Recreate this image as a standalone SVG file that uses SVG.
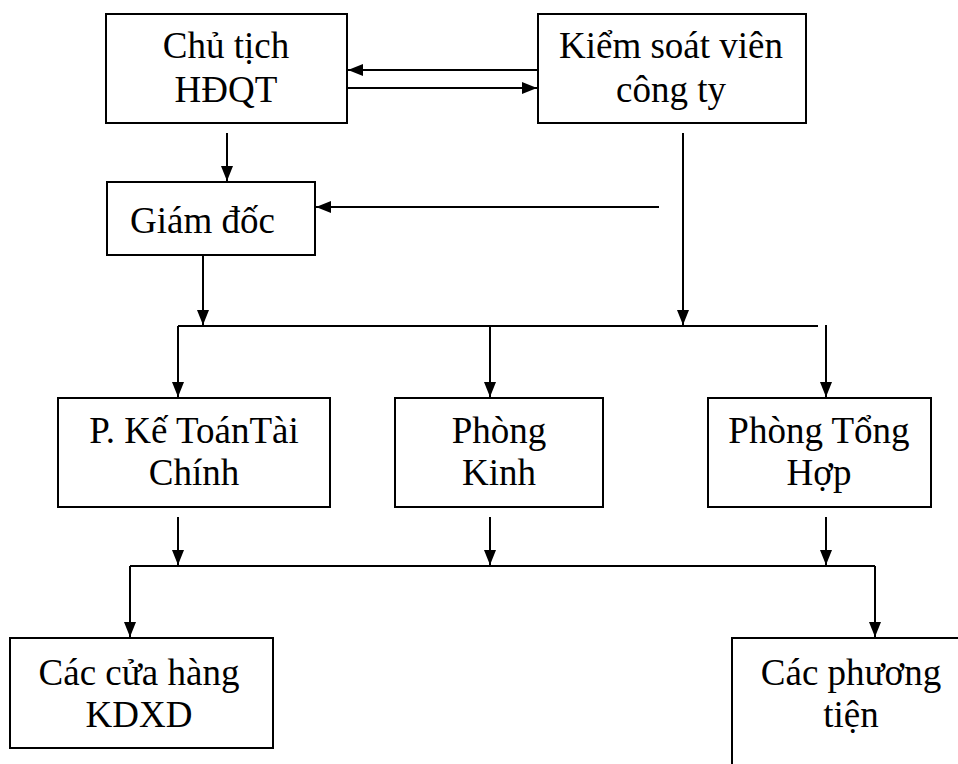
<svg xmlns="http://www.w3.org/2000/svg" width="958" height="764" viewBox="0 0 958 764">
<defs>
<marker id="ah" markerWidth="15" markerHeight="12" refX="15" refY="6" orient="auto" markerUnits="userSpaceOnUse">
<path d="M0,0 L15,6 L0,12 Z" fill="#000"/>
</marker>
<style>
.box{fill:#fff;stroke:#000;stroke-width:2}
.t{font-family:"Liberation Serif","Times New Roman",serif;font-size:37px;fill:#000;text-anchor:middle}
.c{stroke:#000;stroke-width:2;fill:none}
.a{stroke:#000;stroke-width:2;fill:none;marker-end:url(#ah)}
</style>
</defs>
<rect width="958" height="764" fill="#fff"/>
<g id="connectors">
<line class="a" x1="538" y1="70" x2="348" y2="70"/>
<line class="a" x1="347" y1="88" x2="537" y2="88"/>
<line class="a" x1="227" y1="133" x2="227" y2="181"/>
<line class="a" x1="683" y1="133" x2="683" y2="325"/>
<line class="a" x1="659" y1="207" x2="316" y2="207"/>
<line class="a" x1="203" y1="255" x2="203" y2="325"/>
<line class="c" x1="178" y1="326" x2="818" y2="326"/>
<line class="a" x1="178" y1="326" x2="178" y2="397"/>
<line class="a" x1="490" y1="326" x2="490" y2="397"/>
<line class="a" x1="826" y1="325" x2="826" y2="397"/>
<line class="a" x1="178" y1="517" x2="178" y2="565"/>
<line class="a" x1="490" y1="517" x2="490" y2="565"/>
<line class="a" x1="826" y1="517" x2="826" y2="565"/>
<line class="c" x1="130" y1="566" x2="875" y2="566"/>
<line class="a" x1="130" y1="566" x2="130" y2="637"/>
<line class="a" x1="875" y1="566" x2="875" y2="637"/>
</g>
<g id="chu-tich">
<rect class="box" x="106" y="14" width="241" height="109"/>
<text class="t" x="226" y="58">Chủ tịch</text>
<text class="t" x="226" y="102">HĐQT</text>
</g>
<g id="kiem-soat">
<rect class="box" x="538" y="14" width="268" height="109"/>
<text class="t" x="671" y="58">Kiểm soát viên</text>
<text class="t" x="671" y="102">công ty</text>
</g>
<g id="giam-doc">
<rect class="box" x="107" y="182" width="208" height="73"/>
<text class="t" x="130" y="233" style="text-anchor:start">Giám đốc</text>
</g>
<g id="ke-toan">
<rect class="box" x="58" y="398" width="272" height="109"/>
<text class="t" x="194" y="443">P. Kế ToánTài</text>
<text class="t" x="194" y="485">Chính</text>
</g>
<g id="phong-kinh">
<rect class="box" x="395" y="398" width="208" height="109"/>
<text class="t" x="499" y="443">Phòng</text>
<text class="t" x="499" y="485">Kinh</text>
</g>
<g id="tong-hop">
<rect class="box" x="708" y="398" width="223" height="109"/>
<text class="t" x="819" y="443">Phòng Tổng</text>
<text class="t" x="819" y="485">Hợp</text>
</g>
<g id="cua-hang">
<rect class="box" x="10" y="638" width="263" height="110"/>
<text class="t" x="139" y="685">Các cửa hàng</text>
<text class="t" x="139" y="727">KDXD</text>
</g>
<g id="phuong-tien">
<path class="c" d="M732,766 V638 H960"/>
<text class="t" x="851" y="685">Các phương</text>
<text class="t" x="851" y="727">tiện</text>
</g>
</svg>
